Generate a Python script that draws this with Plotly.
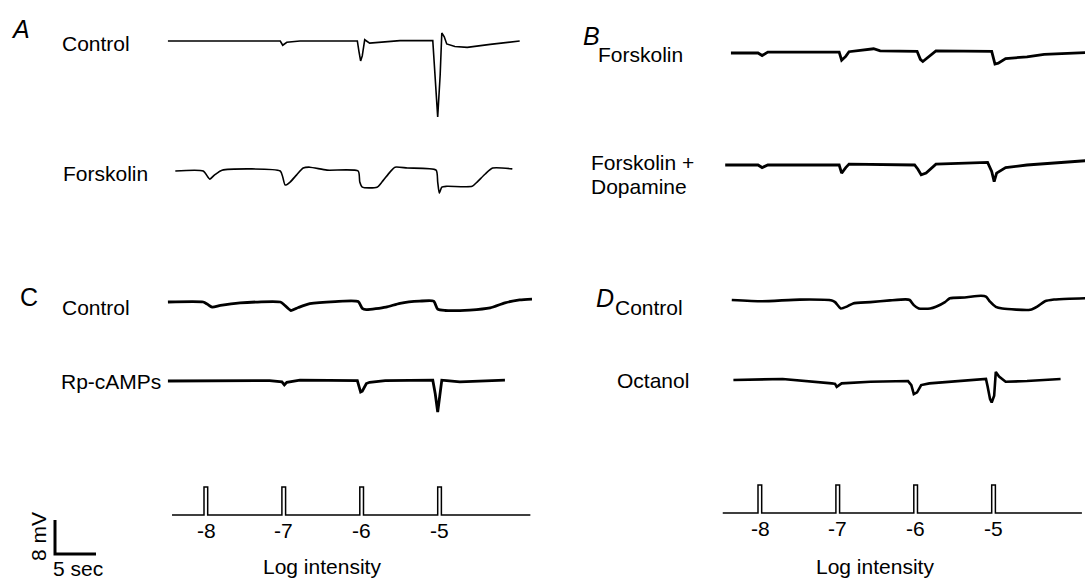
import plotly.graph_objects as go

W, H = 1085, 579
FONT = "Liberation Sans, Arial, sans-serif"

# ---------------- data (time in s, membrane potential change in mV) ----------------
stim_times = [0.0, 9.5, 19.0, 28.5]
stim_labels = ["-8", "-7", "-6", "-5"]
stim_width = 0.45

a_ctrl_t = [-4.4, 9.3, 9.6, 10.1, 11.7, 18.7, 18.9, 19.1, 19.3, 19.6, 20.2, 21.5, 23.9, 27.9, 28.0, 28.3, 28.5,
            28.8, 28.9, 29.0, 29.3, 29.6, 30.6, 32.1, 34.9, 38.5]
a_ctrl_v = [0.0, 0.0, -1.0, -0.3, 0.0, 0.0, -2.5, -4.7, -3.5, 0.3, -0.5, -0.3, 0.1, 0.1, -3.0, -12.0, -17.9,
            -8.0, 0.0, 1.9, 1.0, -0.7, -1.3, -1.5, -0.8, 0.0]

a_fsk_t = [-3.5, -0.1, 0.7, 1.3, 2.2, 9.3, 9.6, 9.9, 10.5, 11.3, 12.1, 12.9, 15.0, 18.8, 19.0, 19.3, 21.1, 21.7,
           22.7, 23.3, 24.8, 28.3, 28.5, 28.7, 29.0, 29.6, 32.7, 33.3, 34.3, 35.2, 37.6]
a_fsk_v = [0.0, 0.0, -1.9, -0.9, 0.2, 0.0, -1.4, -3.3, -2.6, -0.9, 0.7, 0.9, 0.2, 0.0, -2.6, -3.8, -3.8, -2.6,
           -0.2, 0.9, 0.7, 0.2, -2.6, -5.2, -3.8, -3.6, -3.6, -2.6, -0.7, 0.7, 0.5]

b_fsk_t = [-3.3, 0.0, 0.5, 1.2, 9.9, 10.2, 10.7, 11.1, 14.1, 14.9, 19.4, 19.8, 20.1, 20.9, 21.7, 28.5, 28.9,
           29.3, 30.2, 32.8, 34.9, 39.9]
b_fsk_v = [0.0, 0.0, -0.6, 0.2, 0.2, -1.7, -0.8, 0.3, 1.0, 0.5, 0.4, -1.5, -2.0, -0.8, 0.5, 0.4, -2.6,
           -2.4, -1.3, -0.9, -0.3, 0.1]

b_fd_t = [-4.0, 0.0, 0.5, 1.2, 9.9, 10.2, 10.7, 11.1, 19.1, 19.5, 19.9, 20.5, 21.7, 28.0, 28.5, 28.8, 29.1,
          30.2, 32.8, 36.8, 39.9]
b_fd_v = [0.0, 0.0, -0.6, 0.0, 0.0, -1.9, -0.6, 0.2, 0.0, -1.0, -2.3, -1.9, 0.2, 0.6, -1.5, -3.9, -1.9,
          -0.6, 0.0, 0.6, 1.0]

c_ctrl_t = [-4.4, -0.1, 0.4, 1.0, 2.0, 4.4, 9.3, 9.8, 10.6, 11.5, 12.9, 16.0, 18.8, 19.3, 19.8, 22.2, 23.9,
            26.3, 28.0, 28.5, 29.4, 32.4, 34.9, 36.7, 38.5, 40.0]
c_ctrl_v = [0.0, 0.0, -0.5, -1.2, -0.8, -0.2, 0.0, -0.7, -2.0, -1.3, -0.4, 0.1, 0.1, -1.5, -1.8, -1.2, -0.3,
            0.2, 0.2, -1.7, -2.0, -1.9, -1.4, -0.2, 0.5, 0.7]

c_rp_t = [-4.4, 8.0, 9.5, 9.8, 10.1, 11.7, 18.7, 18.9, 19.1, 19.3, 19.8, 20.2, 22.1, 27.9, 28.2, 28.5, 28.7,
          29.0, 29.6, 31.2, 36.7]
c_rp_v = [0.0, 0.1, -0.2, -0.9, -0.3, 0.2, 0.1, -1.0, -2.6, -2.4, -0.6, -0.3, 0.1, 0.2, -3.0, -7.3, -4.0,
          0.2, 0.1, -0.2, 0.2]

d_ctrl_t = [-3.2, 0.5, 5.1, 9.0, 9.4, 10.1, 10.9, 11.6, 13.7, 16.1, 18.0, 18.5, 19.0, 19.6, 21.0, 21.7, 22.8,
            23.4, 25.2, 27.2, 27.8, 28.3, 29.0, 29.8, 33.2, 34.1, 35.0, 36.1, 38.0, 39.9]
d_ctrl_v = [0.0, -0.3, 0.1, -0.1, -0.5, -2.0, -1.5, -0.8, -0.5, -0.1, 0.15, 0.0, -1.2, -2.0, -2.0, -1.6, -0.5,
            0.4, 0.6, 1.0, 0.8, -0.4, -1.6, -2.0, -2.3, -1.5, -0.3, 0.1, 0.3, 0.4]

d_oct_t = [-3.0, 3.0, 9.0, 9.4, 9.6, 10.2, 13.7, 18.3, 18.7, 19.0, 19.4, 19.9, 20.9, 24.3, 27.8, 28.0, 28.3,
           28.5, 28.8, 29.0, 29.4, 30.2, 32.8, 36.9]
d_oct_v = [0.0, 0.25, -0.8, -0.9, -1.6, -0.8, -0.4, -0.25, -1.2, -3.3, -2.9, -1.2, -0.8, -0.25, 0.25, -1.5, -4.5,
           -5.3, -3.7, 1.9, 0.8, -0.4, -0.25, 0.25]

stim_left_span = [-3.9, 39.8]
stim_right_span = [-4.3, 39.5]

scale_t = 5.0    # s
scale_mv = 8.0   # mV

# ---------------- layout constants (pixels) ----------------
PX_PER_S = 8.2
PX_PER_MV = 4.25
PX_PER_STIM = 28.0
LEFT_T0_PX = 204    # pixel of first stimulus, left column
RIGHT_T0_PX = 758   # pixel of first stimulus, right column
SPLIT_PX = 540
FS = 21


def ydom(base_px, lo, hi, ppu):
    top = base_px - hi * ppu
    bot = base_px - lo * ppu
    return [1 - bot / H, 1 - top / H]


def stim_line(times, width, span):
    xs, ys = [span[0]], [0]
    for p in times:
        xs += [p, p, p + width, p + width]
        ys += [0, 1, 1, 0]
    xs.append(span[1])
    ys.append(0)
    return xs, ys


fig = go.Figure()

rows = [
    # (t, v, xaxis, yaxis, base_px, width, shape)
    (a_ctrl_t, a_ctrl_v, "x", "y", 41, 1.6, "linear"),
    (a_fsk_t, a_fsk_v, "x", "y2", 171, 1.6, "spline"),
    (c_ctrl_t, c_ctrl_v, "x", "y3", 302, 2.8, "spline"),
    (c_rp_t, c_rp_v, "x", "y4", 381, 2.8, "linear"),
    (b_fsk_t, b_fsk_v, "x2", "y7", 53, 2.8, "linear"),
    (b_fd_t, b_fd_v, "x2", "y8", 165, 2.8, "linear"),
    (d_ctrl_t, d_ctrl_v, "x2", "y9", 300, 2.6, "spline"),
    (d_oct_t, d_oct_v, "x2", "y10", 380, 2.6, "linear"),
]

axes_cfg = {}
for t, v, xa, ya, base, w, shape in rows:
    line = dict(color="black", width=w, shape=shape)
    if shape == "spline":
        line["smoothing"] = 0.6
    fig.add_trace(go.Scatter(x=t, y=v, mode="lines", xaxis=xa, yaxis=ya, line=line, hoverinfo="skip"))
    axes_cfg[ya] = dict(domain=ydom(base, -22, 8, PX_PER_MV), range=[-22, 8], anchor=xa)

# stimulus traces
sx, sy = stim_line(stim_times, stim_width, stim_left_span)
fig.add_trace(go.Scatter(x=sx, y=sy, mode="lines", xaxis="x", yaxis="y5",
                         line=dict(color="black", width=1.5), hoverinfo="skip"))
axes_cfg["y5"] = dict(domain=ydom(515, -0.5, 1.5, PX_PER_STIM), range=[-0.5, 1.5], anchor="x")

sx2, sy2 = stim_line(stim_times, stim_width, stim_right_span)
fig.add_trace(go.Scatter(x=sx2, y=sy2, mode="lines", xaxis="x2", yaxis="y11",
                         line=dict(color="black", width=1.5), hoverinfo="skip"))
axes_cfg["y11"] = dict(domain=ydom(513, -0.5, 1.5, PX_PER_STIM), range=[-0.5, 1.5], anchor="x2")

# scale bar (in data units of the left column)
SB_T0 = (55 - LEFT_T0_PX) / PX_PER_S
fig.add_trace(go.Scatter(x=[SB_T0, SB_T0, SB_T0 + scale_t], y=[scale_mv, 0, 0], mode="lines",
                         xaxis="x", yaxis="y6", line=dict(color="black", width=3), hoverinfo="skip"))
axes_cfg["y6"] = dict(domain=ydom(554, -2, 10, PX_PER_MV), range=[-2, 10], anchor="x")

layout_axes = {}
for ya, cfg in axes_cfg.items():
    key = "yaxis" if ya == "y" else "yaxis" + ya[1:]
    layout_axes[key] = dict(visible=False, fixedrange=True, **cfg)

layout_axes["xaxis"] = dict(visible=False, fixedrange=True, domain=[0, SPLIT_PX / W],
                            range=[(0 - LEFT_T0_PX) / PX_PER_S, (SPLIT_PX - LEFT_T0_PX) / PX_PER_S], anchor="y")
layout_axes["xaxis2"] = dict(visible=False, fixedrange=True, domain=[SPLIT_PX / W, 1],
                             range=[(SPLIT_PX - RIGHT_T0_PX) / PX_PER_S, (W - RIGHT_T0_PX) / PX_PER_S], anchor="y7")

ann = []


def txt(text, x_px, y_px, size=FS, italic=False, xanchor="left", angle=0):
    ann.append(dict(text=("<i>%s</i>" % text) if italic else text, x=x_px / W, y=1 - y_px / H,
                    xref="paper", yref="paper", xanchor=xanchor, yanchor="middle", showarrow=False,
                    textangle=angle, font=dict(family=FONT, size=size, color="black")))


txt("A", 9, 29, size=25, italic=True)
txt("Control", 60, 43)
txt("Forskolin", 61, 173)
txt("B", 581, 36, size=25, italic=True)
txt("Forskolin", 596, 54)
txt("Forskolin +", 589, 163)
txt("Dopamine", 589, 186)
txt("C", 18, 297, size=25)
txt("Control", 60, 307)
txt("Rp-cAMPs", 59, 381)
txt("D", 594, 298, size=25, italic=True)
txt("Control", 613, 307)
txt("Octanol", 615, 380)
txt("Log intensity", 322, 566, xanchor="center")
txt("Log intensity", 875, 566, xanchor="center")
txt("8 mV", 38, 537, xanchor="center", angle=-90)
txt("5 sec", 51, 568)

for xa, lbls_y in (("x", 530), ("x2", 528)):
    for p, lab in zip(stim_times, stim_labels):
        ann.append(dict(text=lab, x=p + 0.25, y=1 - lbls_y / H, xref=xa, yref="paper",
                        xanchor="center", yanchor="middle", showarrow=False,
                        font=dict(family=FONT, size=FS, color="black")))

fig.update_layout(width=W, height=H, margin=dict(l=0, r=0, t=0, b=0),
                  plot_bgcolor="rgba(0,0,0,0)", paper_bgcolor="white", showlegend=False,
                  annotations=ann, **layout_axes)

fig.write_html("out.html", config={"displayModeBar": False, "staticPlot": True},
               post_script="document.body.style.margin='0';document.body.style.overflow='hidden';")
